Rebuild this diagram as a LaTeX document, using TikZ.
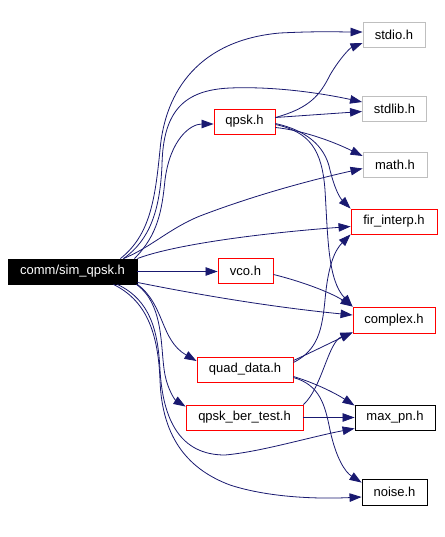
\documentclass[tikz,border=0pt]{standalone}
\usepackage{fontspec}
\setmainfont{Liberation Sans}
\usetikzlibrary{arrows.meta}
\definecolor{edgeblue}{HTML}{191970}
\definecolor{graybd}{HTML}{BFBFBF}
\begin{document}
\begin{tikzpicture}[x=1pt,y=-1pt,
  box/.style={draw, line width=0.9pt, minimum height=25pt, inner sep=0pt, font=\fontsize{13}{15}\selectfont, anchor=center},
  redbox/.style={box, draw=red},
  graybox/.style={box, draw=graybd},
  blackbox/.style={box, draw=black},
  dep/.style={draw=edgeblue, line width=0.8pt, -{Triangle[length=12pt,width=8.5pt]}}
]
\fill[white] (0,0) rectangle (444,537);
\useasboundingbox (0,0) rectangle (444,537);

\node[blackbox, fill=black, text=white, minimum width=129pt] (sim) at (72.5,271.5) {comm/sim\_qpsk.h};
\node[graybox, minimum width=62pt, minimum height=24.6pt] (stdio) at (394,35) {stdio.h};
\node[graybox, minimum width=64pt] (stdlib) at (394.5,108.5) {stdlib.h};
\node[redbox, minimum width=61pt] (qpsk) at (244.5,121.5) {qpsk.h};
\node[graybox, minimum width=64pt] (math) at (395,164.5) {math.h};
\node[redbox, minimum width=86pt] (fir) at (394,221.5) {fir\_interp.h};
\node[redbox, minimum width=55pt] (vco) at (245.5,270.5) {vco.h};
\node[redbox, minimum width=82pt, minimum height=26pt] (complex) at (394,320) {complex.h};
\node[redbox, minimum width=96pt] (quad) at (245,369.5) {quad\_data.h};
\node[redbox, minimum width=117pt] (qber) at (244.5,417.5) {qpsk\_ber\_test.h};
\node[blackbox, minimum width=80pt] (maxpn) at (395,417.5) {max\_pn.h};
\node[blackbox, minimum width=65pt, minimum height=26pt] (noise) at (394.5,492) {noise.h};

% from sim
\draw[dep] ([xshift=-17pt]sim.north east) .. controls (150,235) and (155,200) .. (160,150) .. controls (165,90) and (200,40) .. (280,33) .. controls (320,31) and (340,32) .. ([yshift=3pt]stdio.west);
\draw[dep] ([xshift=-14pt]sim.north east) .. controls (150,240) and (160,210) .. (162,165) .. controls (163,110) and (185,90) .. (230,88) .. controls (280,86) and (330,95) .. ([yshift=6.5pt]stdlib.west);
\draw[dep] ([xshift=-3pt]sim.north east) .. controls (158,235) and (162,210) .. (165,180) .. controls (170,140) and (190,124) .. ([yshift=-2.5pt]qpsk.west);
\draw[dep] ([xshift=-14pt]sim.north east) .. controls (150,248) and (170,228) .. (200,216) .. controls (260,193) and (320,178) .. ([yshift=-4pt]math.west);
\draw[dep] (sim.north east) .. controls (170,246) and (250,234) .. ([yshift=-5pt]fir.west);
\draw[dep] (sim.east) -- (sim.east -| vco.west);
\draw[dep] ([yshift=2pt]sim.south east) .. controls (180,291) and (260,306) .. ([yshift=5pt]complex.west);
\draw[dep] (sim.south east) .. controls (165,305) and (160,340) .. ([yshift=8.5pt]quad.west);
\draw[dep] ([xshift=-1pt]sim.south east) .. controls (165,305) and (160,350) .. (165,375) .. controls (168,390) and (175,400) .. ([yshift=-2pt]qber.north west);
\draw[dep] ([xshift=-20pt]sim.south east) .. controls (150,300) and (158,330) .. (160,370) .. controls (163,420) and (180,455) .. (225,455) .. controls (260,452) and (310,437) .. ([yshift=2pt]maxpn.south west);
\draw[dep] ([xshift=-24pt]sim.south east) .. controls (145,300) and (158,330) .. (160,380) .. controls (162,440) and (190,470) .. (230,485) .. controls (270,498) and (320,499) .. ([yshift=-5pt]noise.west);

% from qpsk
\draw[dep] ([yshift=4pt]qpsk.east) .. controls (310,108) and (320,95) .. (330,75) .. controls (340,58) and (350,48) .. ([yshift=-8pt]stdio.west);
\draw[dep] ([yshift=4pt]qpsk.east) -- ([yshift=-3pt]stdlib.west);
\draw[dep] ([yshift=-6pt]qpsk.east) .. controls (300,130) and (330,140) .. ([yshift=8.5pt]math.west);
\draw[dep] ([yshift=-2pt]qpsk.east) .. controls (305,130) and (325,145) .. (330,170) .. controls (335,190) and (340,198) .. (fir.north west);
\draw[dep] ([yshift=-3pt]qpsk.east) .. controls (310,132) and (322,150) .. (325,190) .. controls (328,240) and (328,280) .. (complex.north west);

% from vco
\draw[dep] ([yshift=-4pt]vco.east) .. controls (300,281) and (330,292) .. (complex.north west);

% from quad_data
\draw[dep] ([yshift=7pt]quad.east) .. controls (318,350) and (322,330) .. (325,300) .. controls (328,265) and (335,250) .. (fir.south west);
\draw[dep] ([yshift=9pt]quad.east) .. controls (310,353) and (330,343) .. ([yshift=1pt]complex.south west);
\draw[dep] ([yshift=-7pt]quad.east) .. controls (315,383) and (335,393) .. ([yshift=-1pt]maxpn.north west);
\draw[dep] ([yshift=-8pt]quad.east) .. controls (320,385) and (325,405) .. (330,430) .. controls (336,458) and (345,472) .. ([yshift=-4pt]noise.north west);

% from qpsk_ber_test
\draw[dep] (qber.north east) .. controls (322,388) and (328,342) .. ([yshift=1pt]complex.south west);
\draw[dep] (qber.east) -- (maxpn.west);
\end{tikzpicture}
\end{document}
